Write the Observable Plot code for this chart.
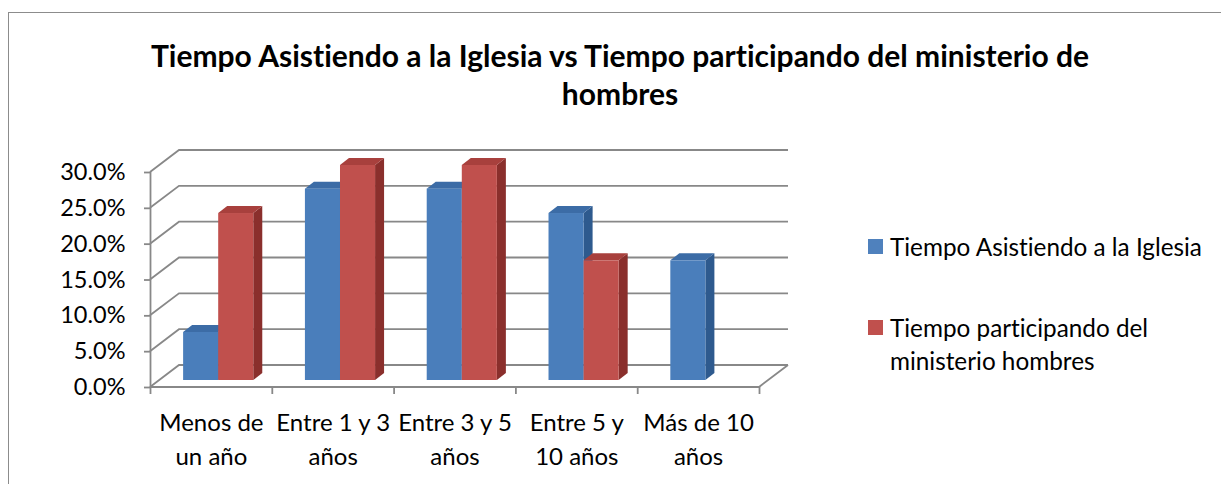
<!DOCTYPE html>
<html><head><meta charset="utf-8">
<script src="https://cdn.jsdelivr.net/npm/d3@7"></script>
<script src="https://cdn.jsdelivr.net/npm/@observablehq/plot@0.6"></script>
<style>
body{margin:0;background:#fff;font-family:Lato,"Open Sans",sans-serif;color:#000;width:1221px;height:484px;overflow:hidden;position:relative;font-variant-ligatures:none}
#frame{position:absolute;left:8px;top:12px;width:1240px;height:500px;border:1.5px solid #8c8c8c;box-sizing:border-box}
#title{position:absolute;left:0;width:1240px;top:36px;text-align:center;font-weight:bold;font-size:30px;line-height:38px;white-space:nowrap}
#chart{position:absolute;left:0;top:130px}
#chart svg{font-variant-ligatures:none}
.leg{position:absolute;font-size:24.3px;line-height:33px;white-space:nowrap}
.sw{position:absolute;width:15px;height:15px}
</style></head>
<body>
<div id="frame"></div>
<div id="title">Tiempo Asistiendo a la Iglesia vs Tiempo participando del ministerio de<br>hombres</div>
<div id="chart"></div>
<div id="legend"></div>
<script>
const categories = ["Menos de\nun año", "Entre 1 y 3\naños", "Entre 3 y 5\naños", "Entre 5 y\n10 años", "Más de 10\naños"];
const seriesNames = ["Tiempo Asistiendo a la Iglesia", "Tiempo participando del\nministerio hombres"];
const asistiendo = [0.067, 0.267, 0.267, 0.233, 0.167];
const participando = [0.233, 0.300, 0.300, 0.167, 0];
const yTicks = [0, 0.05, 0.10, 0.15, 0.20, 0.25, 0.30];

const frontCol = ["#4a7ebb", "#c0504d"];
const topCol = ["#3c6ca6", "#a8403d"];
const sideCol = ["#2e5a8e", "#8a2f2c"];
const gridCol = "#888888";

const rows = [];
categories.forEach((c, i) => {
  [asistiendo[i], participando[i]].forEach((v, k) => { if (v > 0) rows.push({cat: c, i, k, v}); });
});
const bx0 = 0.198, bw = 0.288;        // bar placement inside a category band
const bd = {x: 9, y: -7};              // bar depth (px)
const wd = {x: 29, y: -22};            // wall depth (px)

const walls = (index, {x, y}) => {
  const g = d3.create("svg:g").attr("fill", "none").attr("stroke", gridCol).attr("stroke-width", 1.8);
  for (const t of yTicks) {
    const py = y(t);
    g.append("path").attr("d", `M${x(0)},${py}L${x(0)+wd.x},${py+wd.y}L${x(5)+wd.x},${py+wd.y}`);
  }
  g.append("path").attr("d", `M${x(0)},${y(0)}L${x(5)},${y(0)}L${x(5)+wd.x},${y(0)+wd.y}`);
  return g.node();
};

const faces = (index, {x, y}) => {
  const g = d3.create("svg:g");
  const geo = rows.map(d => ({
    k: d.k,
    x1: x(d.i + bx0 + d.k * bw) + bd.x,
    x2: x(d.i + bx0 + (d.k + 1) * bw) + bd.x,
    yt: y(d.v) + bd.y,
    yb: y(0) + bd.y
  }));
  for (const b of geo) {
    g.append("path").attr("fill", sideCol[b.k])
      .attr("d", `M${b.x2},${b.yt}L${b.x2+bd.x},${b.yt+bd.y}L${b.x2+bd.x},${b.yb+bd.y}L${b.x2},${b.yb}Z`);
  }
  for (const b of geo) {
    g.append("path").attr("fill", topCol[b.k])
      .attr("d", `M${b.x1},${b.yt}L${b.x1+bd.x},${b.yt+bd.y}L${b.x2+bd.x},${b.yt+bd.y}L${b.x2},${b.yt}Z`);
  }
  return g.node();
};

const chart = Plot.plot({
  width: 800, height: 354,
  marginLeft: 150, marginRight: 41, marginTop: 42, marginBottom: 97,
  style: {fontFamily: "Lato, 'Open Sans', sans-serif", background: "transparent", color: "#000"},
  x: {domain: [0, 5]},
  y: {domain: [0, 0.30]},
  marks: [
    walls,
    Plot.ruleX([0], {y1: 0, y2: 0.30, stroke: gridCol, strokeWidth: 1.8}),
    Plot.axisY({ticks: yTicks, tickFormat: d3.format(".1%"), tickSize: 6, tickPadding: 19,
                fontSize: 23.5, stroke: gridCol, strokeWidth: 1.8, fill: "#000", label: null}),
    Plot.axisX({ticks: d3.range(6), tickFormat: () => "", tickSize: 7, stroke: gridCol,
                strokeWidth: 1.8, label: null}),
    faces,
    Plot.rectY(rows, {
      x1: d => d.i + bx0 + d.k * bw,
      x2: d => d.i + bx0 + (d.k + 1) * bw,
      y: "v",
      fill: d => frontCol[d.k],
      dx: bd.x, dy: bd.y
    }),
    Plot.text(categories, {
      x: (d, i) => i + 0.5, y: () => 0, text: d => d,
      fontSize: 24, lineHeight: 1.42, dy: 50, lineAnchor: "middle", fill: "#000"
    })
  ]
});
document.getElementById("chart").appendChild(chart);

const legend = document.getElementById("legend");
const legPos = [{sy: 239, ty: 230}, {sy: 320, ty: 311}];
seriesNames.forEach((name, k) => {
  const sw = document.createElement("div");
  sw.className = "sw";
  sw.style.left = "868px"; sw.style.top = legPos[k].sy + "px";
  sw.style.background = ["#4f81bd", "#c0504d"][k];
  legend.appendChild(sw);
  const t = document.createElement("div");
  t.className = "leg";
  t.style.left = "890px"; t.style.top = legPos[k].ty + "px";
  t.innerHTML = name.replace("\n", "<br>");
  legend.appendChild(t);
});
</script>
</body></html>
